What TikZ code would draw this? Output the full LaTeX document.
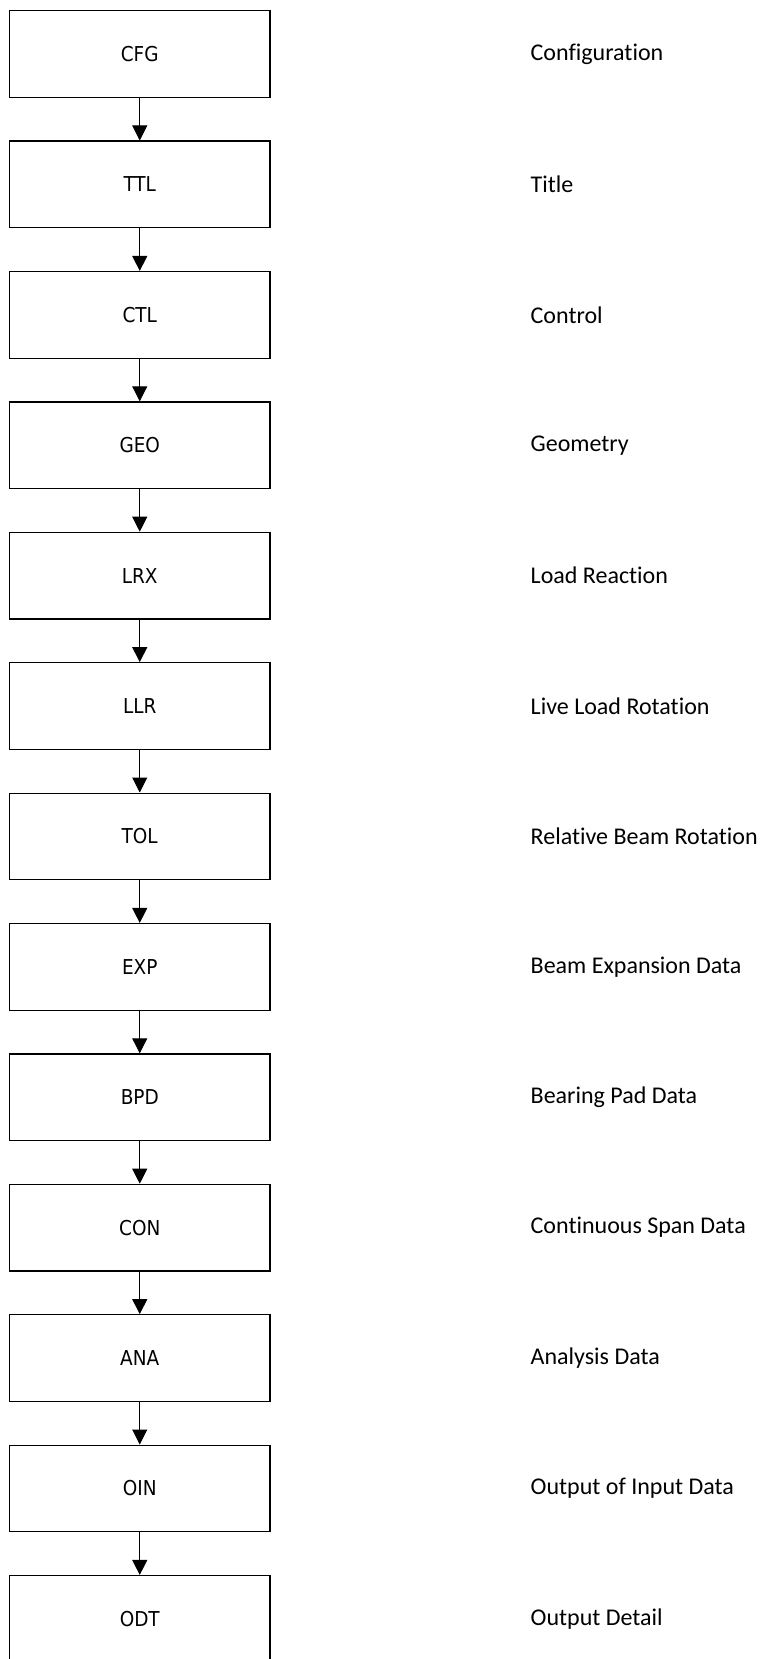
\documentclass[tikz,border=0pt]{standalone}
\usepackage{fontspec}
\setmainfont{Carlito}[Ligatures=NoCommon]
\newfontfamily\boxfont{DejaVu Sans Condensed}
\usetikzlibrary{arrows.meta}
\tikzset{
  x=1pt, y=1pt,
  stagebox/.style={draw, line width=1.2pt, minimum width=260.5pt, minimum height=86.6pt,
    inner sep=0pt, font=\boxfont\fontsize{20.5}{24}\selectfont},
  stagelabel/.style={anchor=west, inner sep=0pt, font=\fontsize{24}{28}\selectfont},
  flow/.style={line width=1pt, -{Triangle[length=15pt,width=15pt]}}
}
\begin{document}
\begin{tikzpicture}
\useasboundingbox (0,0) rectangle (764,-1659);
\clip (0,0) rectangle (764,-1659);
\foreach \code/\desc [count=\i from 0] in {
  CFG/Configuration, TTL/Title, CTL/Control, GEO/Geometry, LRX/Load Reaction,
  LLR/Live Load Rotation, TOL/Relative Beam Rotation, EXP/Beam Expansion Data,
  BPD/Bearing Pad Data, CON/Continuous Span Data, ANA/Analysis Data,
  OIN/Output of Input Data, ODT/Output Detail}{
  \node[stagebox] (b\i) at (139.75, {-54 - 130.4*\i}) {\code};
  \node[stagelabel] (l\i) at (530.5, {-54 - 130.4*\i}) {\desc};
}
\foreach \i [evaluate=\i as \j using int(\i+1)] in {0,...,11}{
  \draw[flow] (b\i.south) -- (b\j.north);
}
\end{tikzpicture}
\end{document}
